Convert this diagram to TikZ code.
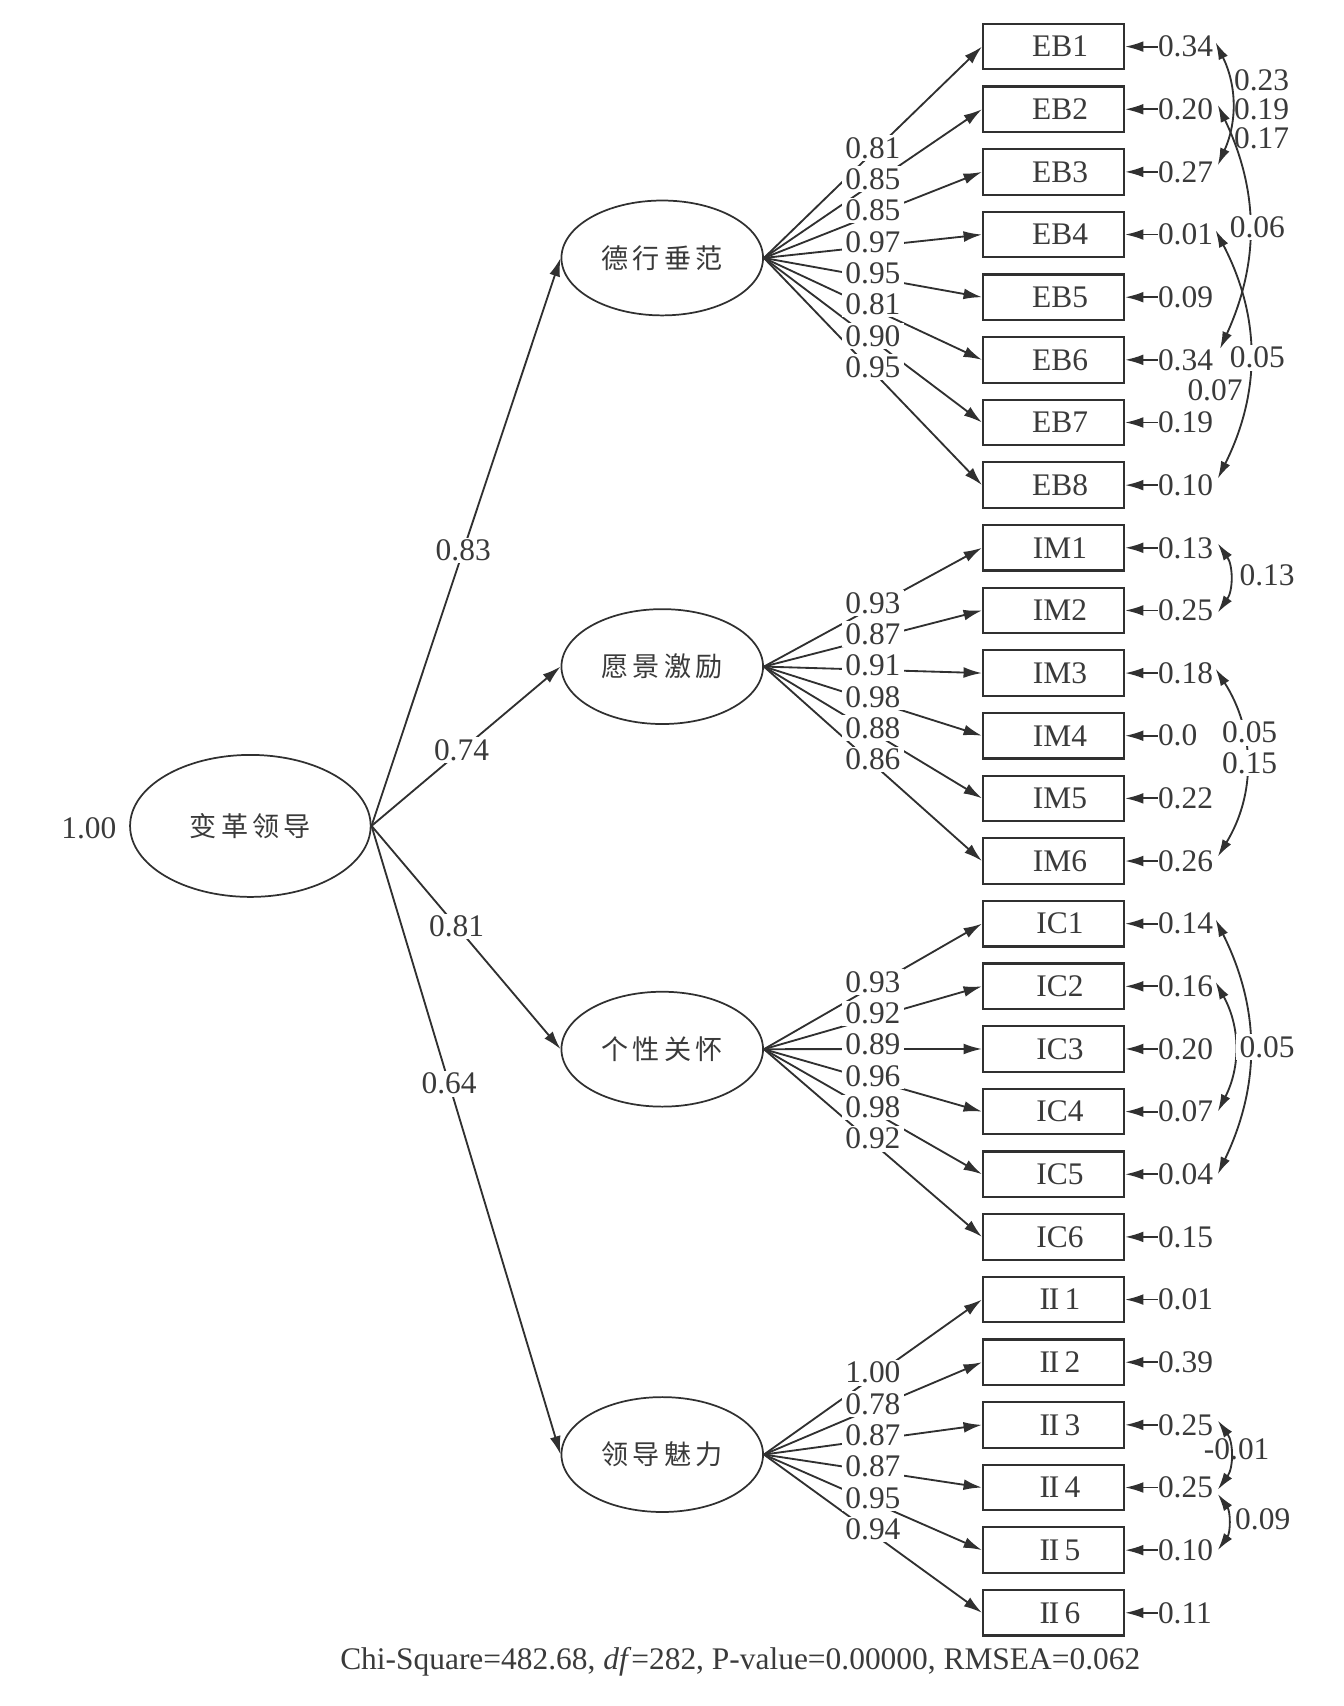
\documentclass[tikz,border=0pt]{standalone}
\usepackage{fontspec}
\setmainfont{Liberation Serif}
\newfontfamily\cjk{Noto Sans CJK SC}
\usetikzlibrary{arrows.meta,shapes.geometric}
\definecolor{ink}{HTML}{303030}
\definecolor{txt}{HTML}{3A3A3A}
\newcommand{\cjkfont}{\cjk\fontsize{12.5}{14}\selectfont}
\newcommand{\romII}{I\kern-0.6pt I}
\begin{document}
\begin{tikzpicture}[x=0.5pt,y=-0.5pt,
  font=\fontsize{14.5}{16}\selectfont, color=ink, text=txt,
  lat/.style={ellipse, draw=ink, line width=0.8pt, minimum width=93pt, minimum height=53pt, inner sep=0pt},
  obs/.style={rectangle, draw=ink, line width=1pt, minimum width=65pt, minimum height=21pt, inner sep=0pt},
  arr/.style={draw=ink, line width=0.85pt, -{Latex[length=8.5pt,width=5pt]}},
  darr/.style={draw=ink, line width=0.85pt, {Latex[length=8pt,width=4.6pt]}-{Latex[length=8pt,width=4.6pt]}},
  lab/.style={fill=white, inner xsep=1.5pt, inner ysep=1pt},
  res/.style={anchor=west, inner sep=0pt},
  free/.style={inner sep=0pt},
]
\useasboundingbox (0,0) rectangle (1240,1574);

% latent variables
\node[lat, minimum width=111pt, minimum height=65.5pt] (TL) at (231,762) {\cjkfont 变\hspace{2pt}革\hspace{2pt}领\hspace{2pt}导};
\node[lat] (EB) at (611,238)  {\cjkfont 德\hspace{2pt}行\hspace{2pt}垂\hspace{2pt}范};
\node[lat] (IM) at (611,615)  {\cjkfont 愿\hspace{2pt}景\hspace{2pt}激\hspace{2pt}励};
\node[lat] (IC) at (611,968)  {\cjkfont 个\hspace{2pt}性\hspace{2pt}关\hspace{2pt}怀};
\node[lat] (II) at (611,1342) {\cjkfont 领\hspace{2pt}导\hspace{2pt}魅\hspace{2pt}力};

\node[free] (vTL) at (82,764) {1.00};

% observed variables and residuals
\foreach \n/\t/\r [count=\k from 0] in {
  eb1/EB1/0.34, eb2/EB2/0.20, eb3/EB3/0.27, eb4/EB4/0.01, eb5/EB5/0.09, eb6/EB6/0.34, eb7/EB7/0.19, eb8/EB8/0.10,
  im1/IM1/0.13, im2/IM2/0.25, im3/IM3/0.18, im4/IM4/0.0, im5/IM5/0.22, im6/IM6/0.26,
  ic1/IC1/0.14, ic2/IC2/0.16, ic3/IC3/0.20, ic4/IC4/0.07, ic5/IC5/0.04, ic6/IC6/0.15,
  ii1/\romII\,1/0.01, ii2/\romII\,2/0.39, ii3/\romII\,3/0.25, ii4/\romII\,4/0.25, ii5/\romII\,5/0.10, ii6/\romII\,6/0.11}{
  \node[obs] (\n) at (972,{43+57.8*\k}) {\hspace*{6pt}\t};
  \node[res] (r\n) at (1068,{43+57.8*\k}) {\r};
  \draw[arr] (r\n.west) -- (\n.east);
}

% structural paths
\draw[arr] (TL.east) -- node[lab, pos=0.485] {0.83} (EB.west);
\draw[arr] (TL.east) -- node[lab, pos=0.476] {0.74} (IM.west);
\draw[arr] (TL.east) -- node[lab, pos=0.45] {0.81} (IC.west);
\draw[arr] (TL.east) -- node[lab, pos=0.41] {0.64} (II.west);

% loadings: lines first
\foreach \f/\b in {EB/eb1,EB/eb2,EB/eb3,EB/eb4,EB/eb5,EB/eb6,EB/eb7,EB/eb8,
  IM/im1,IM/im2,IM/im3,IM/im4,IM/im5,IM/im6,
  IC/ic1,IC/ic2,IC/ic3,IC/ic4,IC/ic5,IC/ic6,
  II/ii1,II/ii2,II/ii3,II/ii4,II/ii5,II/ii6}{
  \draw[arr] (\f.east) -- coordinate[midway] (m\b) (\b.west);
}
% loading labels on top
\foreach \b/\v in {eb1/0.81,eb2/0.85,eb3/0.85,eb4/0.97,eb5/0.95,eb6/0.81,eb7/0.90,eb8/0.95,
  im1/0.93,im2/0.87,im3/0.91,im4/0.98,im5/0.88,im6/0.86,
  ic1/0.93,ic2/0.92,ic3/0.89,ic4/0.96,ic5/0.98,ic6/0.92,
  ii1/1.00,ii2/0.78,ii3/0.87,ii4/0.87,ii5/0.95,ii6/0.94}{
  \node[lab] at ([yshift=2pt]m\b) {\v};
}

% error covariances
\draw[darr] ([xshift=1pt,yshift=2pt]reb1.east) to[bend left=25] ([xshift=2pt,yshift=3pt]reb3.east);
\draw[darr] ([xshift=2pt,yshift=2pt]reb2.east) to[bend left=25] ([xshift=3pt,yshift=5pt]reb6.east);
\draw[darr] ([xshift=1pt,yshift=2pt]reb4.east) to[bend left=27] ([xshift=2pt,yshift=3pt]reb8.east);
\draw[darr] ([xshift=2pt,yshift=2pt]rim1.east) to[bend left=35] ([xshift=2pt,yshift=-1pt]rim2.east);
\draw[darr] ([xshift=1pt,yshift=2pt]rim3.east) to[bend left=32] ([xshift=2pt,yshift=2pt]rim6.east);
\draw[darr] ([xshift=1pt,yshift=2pt]ric1.east) to[bend left=26] ([xshift=2pt,yshift=0pt]ric5.east);
\draw[darr] ([xshift=1pt,yshift=2pt]ric2.east) to[bend left=28] ([xshift=2pt,yshift=0pt]ric4.east);
\draw[darr] ([xshift=2pt,yshift=2pt]rii3.east) to[bend left=36] ([xshift=2pt,yshift=-1pt]rii4.east);
\draw[darr] ([xshift=2pt,yshift=-3pt]rii4.east) to[bend left=36] ([xshift=2pt,yshift=0pt]rii5.east);

\node[free] (k1) at (1164,74) {0.23};
\node[free] (k2) at (1164,101) {0.19};
\node[free] (k3) at (1164,128) {0.17};
\node[lab] (k4) at (1160,210) {0.06};
\node[lab] (k5) at (1160,330) {0.05};
\node[free] (k6) at (1121,360) {0.07};
\node[free] (k7) at (1169,531) {0.13};
\node[lab] (k8) at (1153,676) {0.05};
\node[lab] (k9) at (1153,704) {0.15};
\node[lab] (k10) at (1169,966) {0.05};
\node[free] (k11) at (1141,1337) {-0.01};
\node[free] (k12) at (1165,1402) {0.09};

% fit statistics
\node[free] (fit) at (683,1533) {Chi-Square=482.68, \textit{df}=282, P-value=0.00000, RMSEA=0.062};
\end{tikzpicture}
\end{document}
